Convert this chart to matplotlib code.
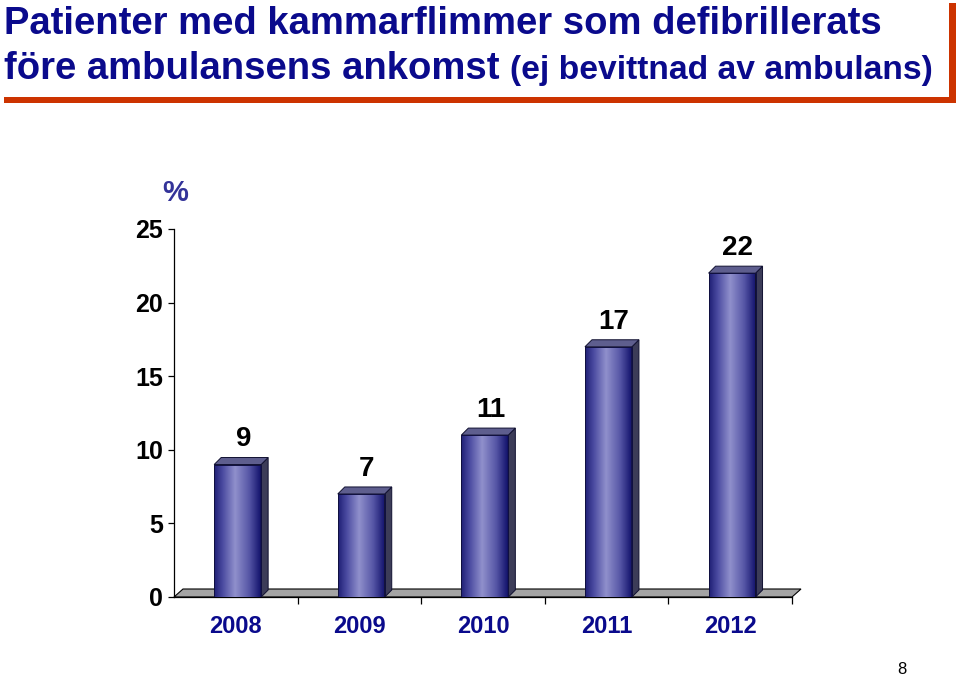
import matplotlib
matplotlib.use('Agg')
import matplotlib.pyplot as plt
import numpy as np
from matplotlib.patches import Polygon, Rectangle
from matplotlib.colors import LinearSegmentedColormap

years = ['2008', '2009', '2010', '2011', '2012']
values = [9, 7, 11, 17, 22]
yticks = [0, 5, 10, 15, 20, 25]

plt.rcParams['font.family'] = ['Liberation Sans', 'DejaVu Sans']

W, H = 960, 679
fig = plt.figure(figsize=(W / 100, H / 100), dpi=100)
fig.patch.set_facecolor('white')

# Title box with shadow
fig.patches.append(Rectangle((4 / W, 1 - 103 / H), 952 / W, 100 / H, transform=fig.transFigure,
                             facecolor='#cc3300', edgecolor='none', zorder=0))
fig.patches.append(Rectangle((0 / W, 1 - 97 / H), 949 / W, 97 / H, transform=fig.transFigure,
                             facecolor='white', edgecolor='none', zorder=1))
title_col = '#0a0a8c'
fig.text(4 / W, 1 - 34 / H, 'Patienter med kammarflimmer som defibrillerats', color=title_col,
         fontsize=27.5, fontweight='bold', va='baseline', ha='left')
t2 = fig.text(4 / W, 1 - 79 / H, 'före ambulansens ankomst ', color=title_col,
              fontsize=27.5, fontweight='bold', va='baseline', ha='left')
fig.canvas.draw()
bb = t2.get_window_extent()
fig.text(bb.x1 / W, 1 - 79 / H, '(ej bevittnad av ambulans)', color=title_col,
         fontsize=24.2, fontweight='bold', va='baseline', ha='left')

# Axes
ax = fig.add_axes([174 / W, 82 / H, 618 / W, 368 / H])
ax.set_facecolor('none')

n = len(values)
xlim = (0, n)
ylim = (0, 25)
px_x = 618 / n          # pixels per x unit
px_y = 368 / 25         # pixels per y unit
ddx, ddy = 7 / px_x, 7 / px_y     # bar depth
fdx, fdy = 9 / px_x, 8 / px_y     # floor depth

# floor
ax.add_patch(Polygon([(0, 0), (n, 0), (n + fdx, fdy), (fdx, fdy)], closed=True,
                     facecolor='#a4a4a4', edgecolor='black', lw=0.8, zorder=1, clip_on=False))

cmap = LinearSegmentedColormap.from_list('bar', [(0, '#1e1e74'), (0.18, '#4a4aa0'), (0.45, '#9090cc'),
                                                 (0.75, '#5656a6'), (1.0, '#12126c')])
grad = np.linspace(0, 1, 256).reshape(1, -1)

xs = np.arange(n) + 0.515
bw = 0.38
bars = ax.bar(xs, values, width=bw, color='none', edgecolor='none', zorder=3)
for b, v, x in zip(bars, values, xs):
    x0, x1 = x - bw / 2, x + bw / 2
    im = ax.imshow(grad, cmap=cmap, extent=(x0, x1, 0, v), aspect='auto', zorder=3,
                   interpolation='bilinear')
    im.set_clip_path(b)
    ax.add_patch(Rectangle((x0, 0), bw, v, facecolor='none', edgecolor='#101040', lw=0.7, zorder=4))
    # side
    ax.add_patch(Polygon([(x1, 0), (x1 + ddx, ddy), (x1 + ddx, v + ddy), (x1, v)], closed=True,
                         facecolor='#3c3c58', edgecolor='#101030', lw=0.7, zorder=3))
    # top
    ax.add_patch(Polygon([(x0, v), (x1, v), (x1 + ddx, v + ddy), (x0 + ddx, v + ddy)], closed=True,
                         facecolor='#5e5e8e', edgecolor='#101030', lw=0.7, zorder=3))
    ax.annotate(str(v), (x, v), xytext=(4, 13), textcoords='offset points', ha='center',
                va='baseline', fontsize=20, fontweight='bold', color='black', zorder=5)

ax.set_xlim(*xlim)
ax.set_ylim(*ylim)

for s in ['top', 'right']:
    ax.spines[s].set_visible(False)
ax.spines['left'].set_color('black')
ax.spines['bottom'].set_color('black')
ax.spines['left'].set_linewidth(0.9)
ax.spines['bottom'].set_linewidth(0.9)

ax.set_yticks(yticks)
ax.set_yticklabels([str(t) for t in yticks], fontsize=18, fontweight='bold')
ax.tick_params(axis='y', direction='out', length=4, width=0.9, pad=4)

ax.set_xticks(np.arange(n) + 0.5)
ax.set_xticklabels(years, fontsize=17, fontweight='bold', color='#0a0a8c')
ax.tick_params(axis='x', which='major', length=0, pad=13)
ax.set_xticks(np.arange(1, n + 1), minor=True)
ax.tick_params(axis='x', which='minor', direction='out', length=5, width=0.9)

fig.text(175 / W, 1 - 193 / H, '%', color='#333399', fontsize=21, fontweight='bold',
         ha='center', va='center')
fig.text(902 / W, 1 - 670 / H, '8', color='black', fontsize=12, ha='center', va='center')

fig.savefig('out.png', dpi=100)
